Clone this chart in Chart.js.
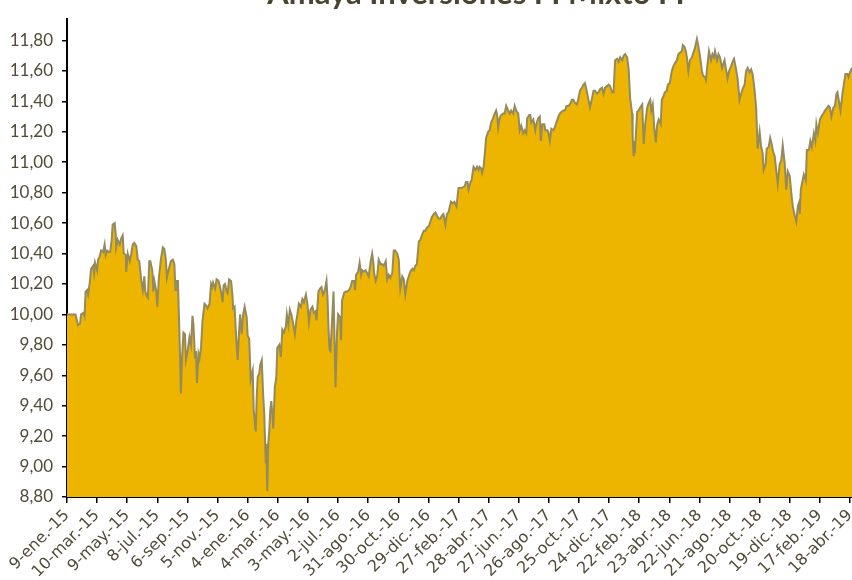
<!DOCTYPE html>
<html><head><meta charset="utf-8">
<script src="https://cdn.jsdelivr.net/npm/chart.js@4.4.1/dist/chart.umd.min.js"></script>
<style>html,body{margin:0;padding:0;background:#fff;}#wrap{width:852px;height:580px;position:relative;}</style>
</head><body><div id="wrap"><canvas id="c" width="852" height="580"></canvas></div>
<script>
const chartTitle = "Amaya Inversiones FI Mixto FI";
// days since 9-ene-2015
const days = [0,17,22,26,28,33,35,37,40,42,45,48,52,54,56,60,62,65,68,72,75,77,80,83,86,89,91,95,97,98,101,105,108,111,113,117,118,121,125,128,131,134,138,141,144,148,151,154,156,159,161,164,166,170,172,174,178,180,183,187,191,194,197,199,203,207,211,214,216,217,221,224,227,229,232,235,237,240,244,247,250,252,255,257,259,262,264,267,270,274,277,280,284,287,289,291,295,298,302,305,308,310,312,315,318,320,323,327,330,331,334,336,340,343,345,348,351,354,358,360,363,366,370,372,374,376,378,380,383,385,388,391,393,396,397,399,401,403,405,407,409,411,414,417,419,423,426,429,432,436,438,441,444,447,450,454,457,459,462,466,469,472,476,479,482,485,489,492,495,497,501,504,507,510,513,517,519,521,523,525,529,531,533,535,538,540,544,546,548,552,555,558,562,565,568,572,574,576,580,583,586,588,591,595,598,601,605,608,610,612,615,618,621,625,628,631,635,638,641,644,648,651,654,658,661,664,668,671,674,678,681,684,688,691,694,697,701,704,707,711,714,717,721,724,727,731,734,737,740,744,747,750,754,757,760,765,768,772,776,780,785,792,795,798,800,804,806,810,814,817,820,822,825,827,830,833,835,839,842,845,849,852,855,857,859,862,865,869,872,875,879,882,885,889,892,895,899,902,905,909,912,915,917,921,923,925,929,931,933,935,939,942,944,947,951,953,957,959,962,965,969,972,975,979,982,985,989,992,995,999,1002,1006,1009,1012,1016,1019,1022,1026,1029,1032,1036,1039,1042,1046,1049,1052,1056,1059,1062,1066,1069,1072,1076,1079,1082,1086,1089,1092,1096,1099,1102,1106,1109,1112,1116,1119,1122,1126,1127,1129,1130,1132,1136,1139,1142,1146,1149,1152,1156,1159,1162,1164,1167,1170,1173,1176,1179,1183,1185,1188,1191,1195,1197,1201,1205,1208,1211,1215,1218,1221,1225,1227,1230,1233,1235,1238,1241,1245,1248,1251,1255,1258,1261,1265,1267,1271,1273,1276,1279,1283,1286,1289,1291,1295,1298,1301,1305,1307,1310,1313,1316,1319,1323,1326,1329,1333,1336,1340,1343,1346,1350,1353,1356,1360,1363,1366,1370,1373,1376,1380,1383,1386,1388,1392,1394,1398,1401,1404,1406,1410,1413,1416,1420,1423,1426,1430,1433,1436,1440,1443,1446,1450,1453,1456,1458,1460,1462,1465,1468,1472,1474,1478,1481,1484,1488,1491,1493,1496,1500,1503,1507,1510,1513,1517,1520,1523,1527,1530,1533,1535,1539,1541,1545,1548,1551,1555,1557,1560,1564];
const navValues = [10.00,10.00,9.93,9.94,10.00,10.01,9.99,10.15,10.16,10.13,10.20,10.30,10.32,10.27,10.34,10.29,10.36,10.38,10.42,10.41,10.46,10.39,10.42,10.41,10.41,10.49,10.59,10.60,10.53,10.44,10.49,10.46,10.50,10.52,10.40,10.39,10.28,10.40,10.35,10.40,10.46,10.47,10.45,10.36,10.35,10.22,10.16,10.25,10.15,10.12,10.11,10.35,10.35,10.29,10.15,10.22,10.15,10.05,10.24,10.36,10.44,10.43,10.36,10.24,10.30,10.35,10.36,10.33,10.16,10.22,10.22,9.88,9.48,9.70,9.88,9.87,9.70,9.75,9.85,9.80,9.99,9.93,9.71,9.76,9.55,9.74,9.71,9.78,9.96,10.07,10.06,10.04,10.07,10.20,10.18,10.21,10.17,10.23,10.22,10.18,10.13,10.08,10.19,10.20,10.15,10.14,10.23,10.22,10.11,10.04,10.05,9.91,9.70,9.90,10.00,9.87,10.00,10.05,9.98,9.86,9.84,9.57,9.63,9.37,9.30,9.23,9.46,9.59,9.61,9.67,9.70,9.46,9.35,9.02,9.15,8.84,9.15,9.24,9.37,9.43,9.35,9.25,9.52,9.59,9.78,9.80,9.72,9.90,9.88,9.92,10.00,9.93,10.03,10.00,9.95,9.87,9.96,10.00,10.07,10.05,10.10,10.08,10.13,10.07,9.95,10.03,10.05,10.01,10.02,9.96,10.15,10.17,10.18,10.13,10.15,10.22,10.11,9.91,9.77,9.76,10.02,10.15,9.83,9.52,9.88,10.00,9.98,9.83,10.09,10.14,10.15,10.15,10.16,10.18,10.22,10.22,10.16,10.26,10.28,10.34,10.26,10.29,10.28,10.29,10.27,10.25,10.35,10.40,10.35,10.27,10.22,10.25,10.36,10.33,10.33,10.32,10.35,10.23,10.26,10.24,10.27,10.42,10.42,10.40,10.36,10.17,10.25,10.23,10.13,10.22,10.25,10.28,10.30,10.29,10.32,10.33,10.48,10.49,10.52,10.55,10.55,10.57,10.58,10.61,10.64,10.66,10.67,10.65,10.63,10.63,10.65,10.66,10.59,10.66,10.67,10.74,10.73,10.74,10.71,10.83,10.83,10.84,10.87,10.87,10.82,10.87,10.88,10.97,10.95,10.97,10.95,10.97,10.96,10.93,10.97,11.08,11.16,11.20,11.21,11.26,11.29,11.32,11.34,11.31,11.23,11.29,11.31,11.32,11.32,11.37,11.34,11.32,11.34,11.32,11.37,11.34,11.32,11.21,11.24,11.19,11.21,11.19,11.29,11.31,11.31,11.26,11.28,11.25,11.21,11.25,11.29,11.30,11.14,11.25,11.25,11.21,11.21,11.20,11.14,11.22,11.21,11.23,11.26,11.30,11.32,11.33,11.34,11.34,11.37,11.37,11.38,11.41,11.41,11.39,11.38,11.42,11.47,11.49,11.51,11.52,11.46,11.41,11.36,11.42,11.47,11.47,11.45,11.46,11.48,11.49,11.45,11.49,11.50,11.51,11.50,11.46,11.46,11.67,11.68,11.66,11.69,11.67,11.70,11.71,11.69,11.61,11.42,11.32,11.17,11.04,11.14,11.10,11.33,11.34,11.36,11.38,11.12,11.25,11.36,11.39,11.41,11.34,11.38,11.23,11.13,11.25,11.28,11.25,11.41,11.43,11.46,11.47,11.51,11.52,11.60,11.63,11.65,11.67,11.71,11.72,11.73,11.77,11.76,11.73,11.69,11.60,11.67,11.69,11.72,11.75,11.81,11.76,11.70,11.60,11.57,11.56,11.54,11.64,11.73,11.67,11.71,11.69,11.73,11.67,11.71,11.69,11.62,11.64,11.67,11.61,11.55,11.60,11.63,11.66,11.68,11.61,11.55,11.41,11.45,11.48,11.51,11.60,11.62,11.59,11.61,11.58,11.47,11.36,11.09,11.20,11.10,11.06,10.95,10.99,11.09,11.10,11.16,11.12,11.08,11.04,10.95,10.86,10.99,11.01,11.11,10.99,10.82,10.94,10.91,10.80,10.71,10.65,10.61,10.71,10.73,10.66,10.82,10.87,10.92,10.88,11.08,11.08,11.14,11.10,11.19,11.14,11.25,11.19,11.28,11.30,11.32,11.34,11.35,11.37,11.36,11.30,11.36,11.37,11.45,11.46,11.38,11.34,11.45,11.52,11.58,11.58,11.56,11.59,11.62];
const tickDays = [0,60,120,180,240,300,360,420,480,540,600,660,720,780,840,900,960,1020,1080,1140,1200,1260,1320,1380,1440,1500,1560];
const tickLabels = ["9-ene.-15","10-mar.-15","9-may.-15","8-jul.-15","6-sep.-15","5-nov.-15","4-ene.-16","4-mar.-16","3-may.-16","2-jul.-16","31-ago.-16","30-oct.-16","29-dic.-16","27-feb.-17","28-abr.-17","27-jun.-17","26-ago.-17","25-oct.-17","24-dic.-17","22-feb.-18","23-abr.-18","22-jun.-18","21-ago.-18","20-oct.-18","19-dic.-18","17-feb.-19","18-abr.-19"];
const yTicks = [8.8,9.0,9.2,9.4,9.6,9.8,10.0,10.2,10.4,10.6,10.8,11.0,11.2,11.4,11.6,11.8];

const points = days.map((d,i)=>({x:d,y:navValues[i]}));
const textColor = '#514b39';

const titlePlugin = {
  id:'cutTitle',
  afterDraw(chart){
    const ctx = chart.ctx;
    ctx.save();
    ctx.font = 'bold 31px Lato';
    ctx.fillStyle = '#4a4431';
    ctx.textAlign = 'center';
    ctx.textBaseline = 'alphabetic';
    ctx.fillText(chartTitle, 476, 4);
    ctx.restore();
  }
};

new Chart(document.getElementById('c'), {
  type:'line',
  data:{datasets:[{
    data:points,
    borderColor:'#948a5c',
    borderWidth:2,
    backgroundColor:'#edb500',
    fill:'start',
    pointRadius:0,
    tension:0
  }]},
  options:{
    responsive:false,
    animation:false,
    layout:{padding:{top:15,left:0,right:0,bottom:0}},
    plugins:{legend:{display:false},tooltip:{enabled:false},title:{display:false}},
    scales:{
      x:{
        type:'linear',
        min:0,max:1564,
        afterBuildTicks(scale){ scale.ticks = tickDays.map(v=>({value:v})); },
        afterFit(scale){ scale.height = 83; scale.paddingLeft = 0; scale.paddingRight = 0; },
        ticks:{
          autoSkip:false,maxRotation:45,minRotation:45,padding:3,
          color:textColor,font:{family:'DejaVu Sans',size:16},
          callback:(v,i)=>tickLabels[i]
        },
        grid:{drawOnChartArea:false,drawTicks:true,tickLength:6,color:'#000',lineWidth:1.5},
        border:{color:'#000',width:2}
      },
      y:{
        type:'linear',
        min:8.8,max:11.94,
        afterBuildTicks(scale){ scale.ticks = yTicks.map(v=>({value:v})); },
        afterFit(scale){ scale.width = 67; },
        ticks:{
          padding:9,color:textColor,font:{family:'Lato',size:17},
          callback:(v)=>Number(v).toFixed(2).replace('.',',')
        },
        grid:{drawOnChartArea:false,drawTicks:true,tickLength:5,color:'#000',lineWidth:1.5},
        border:{color:'#000',width:2}
      }
    }
  },
  plugins:[titlePlugin]
});
</script>
</body></html>
